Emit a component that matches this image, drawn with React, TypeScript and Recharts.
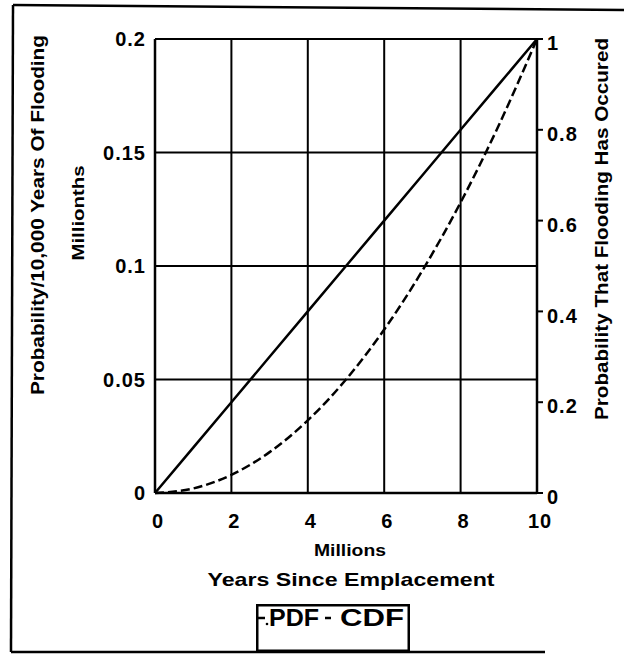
import { LineChart, Line, XAxis, YAxis, CartesianGrid, Legend } from 'recharts';

// values
const years = [0, 1, 2, 3, 4, 5, 6, 7, 8, 9, 10];
const pdfValues = [0, 0.02, 0.04, 0.06, 0.08, 0.1, 0.12, 0.14, 0.16, 0.18, 0.2];
const cdfValues = [0, 0.01, 0.04, 0.09, 0.16, 0.25, 0.36, 0.49, 0.64, 0.81, 1];
const seriesNames = ['PDF', 'CDF'];

const xTicks = [0, 2, 4, 6, 8, 10];
const leftTicks = [0, 0.05, 0.1, 0.15, 0.2];
const rightTicks = [0, 0.2, 0.4, 0.6, 0.8, 1];

const rows = years.map((t, i) => ({ t, pdf: pdfValues[i], cdf: cdfValues[i] }));

const FONT = '"Liberation Sans", Arial, sans-serif';
const tickStyle = { fontSize: 20, fontWeight: 700, fill: '#000', fontFamily: FONT, letterSpacing: 1 };
const titleStyle = { fontWeight: 700, fill: '#000', fontFamily: FONT };

function LegendBox({ payload }: any) {
  // keep the order of the original legend: PDF then CDF
  const pick = (key: string, fallback: string) =>
    payload?.find((p: any) => p.dataKey === key)?.value ?? fallback;
  const first = pick('pdf', seriesNames[0]);
  const second = pick('cdf', seriesNames[1]);
  return (
    <svg width={154} height={48} style={{ display: 'block' }}>
      <rect x={1.25} y={1.25} width={151.5} height={45.5} fill="#fff" stroke="#000" strokeWidth={2.5} />
      <line x1={2} x2={9} y1={14} y2={14} stroke="#000" strokeWidth={2.5} />
      <circle cx={11} cy={20} r={1.3} fill="#000" />
      <text x={13} y={22} fontSize={23} textLength={50} lengthAdjust="spacingAndGlyphs" style={titleStyle}>
        {first}
      </text>
      <line x1={69} x2={75} y1={14} y2={14} stroke="#000" strokeWidth={2.5} />
      <text x={84} y={22} fontSize={23} textLength={64} lengthAdjust="spacingAndGlyphs" style={titleStyle}>
        {second}
      </text>
    </svg>
  );
}

function App() {
  return (
    <div style={{ position: 'absolute', left: 0, top: 0, width: 624, height: 658, background: '#fff' }}>
      <LineChart
        width={624}
        height={658}
        data={rows}
        margin={{ top: 39, right: 37, left: 95, bottom: 105 }}
      >
        <CartesianGrid yAxisId="left" stroke="#000" strokeWidth={2} strokeDasharray="" />
        <XAxis
          dataKey="t"
          type="number"
          domain={[0, 10]}
          ticks={xTicks}
          height={60}
          tickLine={false}
          tickMargin={15}
          axisLine={{ stroke: '#000', strokeWidth: 2.5 }}
          tick={{ ...tickStyle, dx: 3 }}
          label={() => (
            <g>
              <text x={350} y={556} textAnchor="middle" fontSize={17} textLength={72} lengthAdjust="spacingAndGlyphs" style={titleStyle}>
                Millions
              </text>
              <text x={351} y={586} textAnchor="middle" fontSize={19} textLength={287} lengthAdjust="spacingAndGlyphs" style={titleStyle}>
                Years Since Emplacement
              </text>
            </g>
          )}
        />
        <YAxis
          yAxisId="left"
          domain={[0, 0.2]}
          ticks={leftTicks}
          width={60}
          tickLine={false}
          tickMargin={3}
          axisLine={{ stroke: '#000', strokeWidth: 2.5 }}
          tick={tickStyle}
          label={() => (
            <g>
              <text
                x={37}
                y={215}
                transform="rotate(-90 37 215)"
                textAnchor="middle"
                dominantBaseline="central"
                fontSize={19}
                textLength={360}
                lengthAdjust="spacingAndGlyphs"
                style={titleStyle}
              >
                Probability/10,000 Years Of Flooding
              </text>
              <text
                x={78}
                y={213}
                transform="rotate(-90 78 213)"
                textAnchor="middle"
                dominantBaseline="central"
                fontSize={16}
                textLength={95}
                lengthAdjust="spacingAndGlyphs"
                style={titleStyle}
              >
                Millionths
              </text>
            </g>
          )}
        />
        <YAxis
          yAxisId="right"
          orientation="right"
          domain={[0, 1]}
          ticks={rightTicks}
          width={50}
          tickSize={6}
          tickMargin={4}
          tickLine={{ stroke: '#000', strokeWidth: 2 }}
          axisLine={{ stroke: '#000', strokeWidth: 2.5 }}
          tick={{ ...tickStyle, dy: 4 }}
          label={() => (
            <text
              x={601}
              y={229}
              transform="rotate(-90 601 229)"
              textAnchor="middle"
              dominantBaseline="central"
              fontSize={19}
              textLength={382}
              lengthAdjust="spacingAndGlyphs"
              style={titleStyle}
            >
              Probability That Flooding Has Occured
            </text>
          )}
        />
        <Line
          yAxisId="left"
          type="linear"
          dataKey="pdf"
          name={seriesNames[0]}
          stroke="#000"
          strokeWidth={2.5}
          dot={false}
          isAnimationActive={false}
        />
        <Line
          yAxisId="right"
          type="monotone"
          dataKey="cdf"
          name={seriesNames[1]}
          stroke="#000"
          strokeWidth={2.5}
          strokeDasharray="9 4"
          dot={false}
          isAnimationActive={false}
        />
        <Legend
          layout="vertical"
          align="center"
          verticalAlign="middle"
          wrapperStyle={{ left: 256, top: 604, width: 154, height: 48 }}
          content={(props: any) => <LegendBox payload={props.payload} />}
        />
      </LineChart>
      {/* scanned page frame */}
      <svg width={624} height={658} style={{ position: 'absolute', left: 0, top: 0, pointerEvents: 'none' }}>
        <line x1={13} y1={5} x2={624} y2={10} stroke="#000" strokeWidth={2.5} />
        <line x1={13} y1={5} x2={11} y2={652} stroke="#000" strokeWidth={2.5} />
        <line x1={11} y1={652} x2={545} y2={652} stroke="#000" strokeWidth={2.5} />
      </svg>
    </div>
  );
}

export default App;
